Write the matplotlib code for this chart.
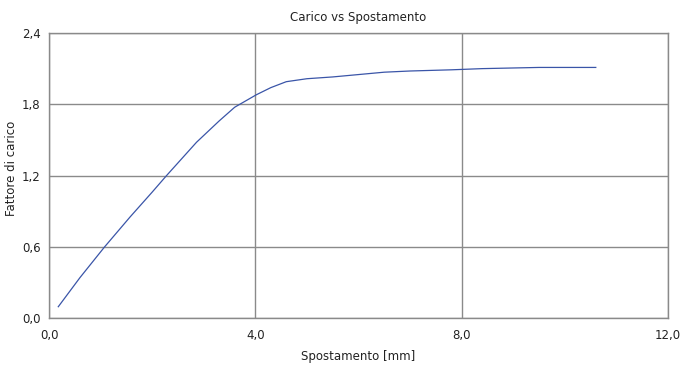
import matplotlib
matplotlib.use("Agg")
import matplotlib.pyplot as plt

# Data
spostamento = [0.18, 0.6, 1.08, 1.57, 2.0, 2.28, 2.86, 3.3, 3.6, 4.02, 4.3, 4.6,
               5.0, 5.5, 6.0, 6.5, 7.0, 7.8, 8.4, 9.5, 10.6]
fattore = [0.095, 0.34, 0.60, 0.85, 1.06, 1.20, 1.48, 1.66, 1.775, 1.88, 1.94, 1.99,
           2.015, 2.03, 2.05, 2.07, 2.08, 2.09, 2.10, 2.11, 2.11]

xticks = [0, 4, 8, 12]
xtick_labels = ["0,0", "4,0", "8,0", "12,0"]
yticks = [0, 0.6, 1.2, 1.8, 2.4]
ytick_labels = ["0,0", "0,6", "1,2", "1,8", "2,4"]

plt.rcParams['font.family'] = ['DejaVu Sans']

fig = plt.figure(figsize=(7.0, 3.69), dpi=100)
ax = fig.add_axes([49/700, 1 - 318/369, (668-49)/700, (318-33)/369])

ax.plot(spostamento, fattore, color="#3a55a8", linewidth=0.9)

ax.set_xlim(0, 12)
ax.set_ylim(0, 2.4)
ax.set_xticks(xticks)
ax.set_xticklabels(xtick_labels)
ax.set_yticks(yticks)
ax.set_yticklabels(ytick_labels)
ax.tick_params(axis='both', length=0, labelsize=8.5, colors="#222222")
ax.tick_params(axis='x', pad=8)
ax.tick_params(axis='y', pad=6)

ax.grid(True, color="#8a8a8a", linewidth=1.0)
ax.set_axisbelow(True)
for s in ax.spines.values():
    s.set_color("#8a8a8a")
    s.set_linewidth(1.0)

ax.set_title("Carico vs Spostamento", fontsize=8.5, color="#222222", pad=9)
ax.set_xlabel("Spostamento [mm]", fontsize=8.5, color="#222222", labelpad=6)
ax.set_ylabel("Fattore di carico", fontsize=8.5, color="#222222")
ax.yaxis.set_label_coords((18 - 49) / 619, 0.525)

fig.savefig("out.png", dpi=100, facecolor="white")
